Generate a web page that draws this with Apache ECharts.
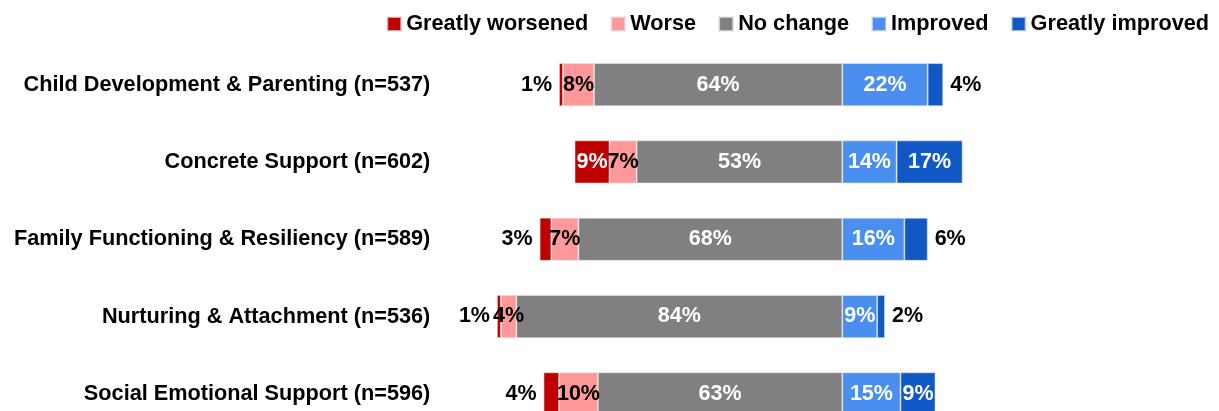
<!DOCTYPE html>
<html>
<head>
<meta charset="utf-8">
<script src="https://cdn.jsdelivr.net/npm/echarts@6/dist/echarts.min.js"></script>
<style>
html,body{margin:0;padding:0;background:#fff;}
#chart{width:1219px;height:411px;}
</style>
</head>
<body>
<div id="chart"></div>
<script>
const categories = [
  'Child Development & Parenting (n=537)',
  'Concrete Support (n=602)',
  'Family Functioning & Resiliency (n=589)',
  'Nurturing & Attachment (n=536)',
  'Social Emotional Support (n=596)'
];
const seriesNames = ['Greatly worsened','Worse','No change','Improved','Greatly improved'];
const greatlyWorsened = [1, 9, 3, 1, 4];
const worse = [8, 7, 7, 4, 10];
const noChange = [64, 53, 68, 84, 63];
const improved = [22, 14, 16, 9, 15];
const greatlyImproved = [4, 17, 6, 2, 9];

const FONT = '"Liberation Sans", Arial, sans-serif';
const colors = {
  'Greatly worsened': '#C00000',
  'Worse': '#FF9999',
  'No change': '#808080',
  'Improved': '#4A8FEF',
  'Greatly improved': '#1058C6'
};
const OUTSIDE_LIMIT = 8;

function buildData(values, negative, outsidePos) {
  return values.map(v => {
    const item = { value: negative ? -v : v };
    if (outsidePos && v < OUTSIDE_LIMIT) {
      item.label = { position: outsidePos, color: '#000', distance: 7 };
    }
    return item;
  });
}

function makeSeries(name, values, negative, labelColor, outsidePos) {
  return {
    name: name,
    type: 'bar',
    stack: 'total',
    barWidth: 43,
    itemStyle: { color: colors[name], borderColor: 'rgba(230,230,230,0.7)', borderWidth: 0.8 },
    label: {
      show: true,
      position: 'inside',
      color: labelColor,
      fontFamily: FONT,
      fontWeight: 'bold',
      fontSize: 21.5,
      formatter: p => Math.abs(p.value) + '%'
    },
    emphasis: { disabled: true },
    data: buildData(values, negative, outsidePos)
  };
}

const chart = echarts.init(document.getElementById('chart'), null, { renderer: 'canvas' });
chart.setOption({
  animation: false,
  backgroundColor: '#fff',
  legend: {
    data: seriesNames,
    top: 8,
    right: 5,
    itemWidth: 14,
    itemHeight: 14,
    itemGap: 22,
    icon: 'rect',
    textStyle: { fontFamily: FONT, fontWeight: 'bold', fontSize: 21.7, color: '#000' }
  },
  grid: { left: 454.3, top: 46, width: 582, height: 386.5, containLabel: false, outerBoundsMode: 'none' },
  xAxis: {
    type: 'value', min: -100, max: 50,
    show: false
  },
  yAxis: {
    type: 'category',
    data: categories,
    inverse: true,
    axisLine: { show: false },
    axisTick: { show: false },
    axisLabel: { margin: 24, color: '#000', fontFamily: FONT, fontWeight: 'bold', fontSize: 21.7 }
  },
  series: [
    makeSeries('No change', noChange, true, '#fff', null),
    makeSeries('Worse', worse, true, '#000', null),
    makeSeries('Greatly worsened', greatlyWorsened, true, '#fff', 'left'),
    makeSeries('Improved', improved, false, '#fff', null),
    makeSeries('Greatly improved', greatlyImproved, false, '#fff', 'right')
  ]
});
</script>
</body>
</html>
